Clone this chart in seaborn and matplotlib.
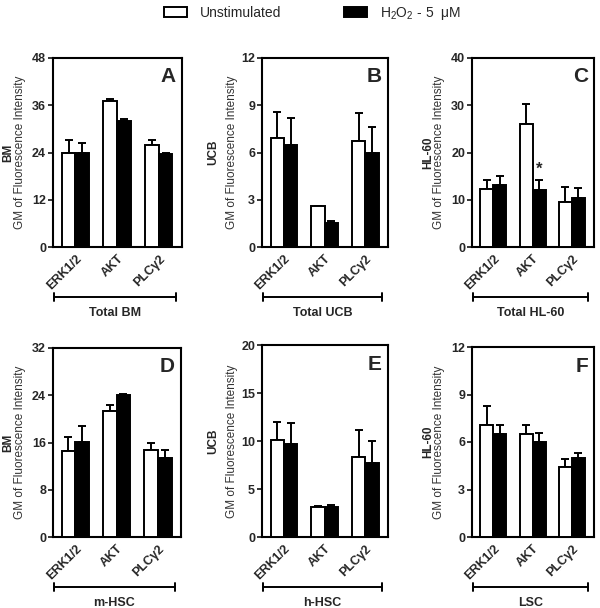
import numpy as np
import pandas as pd
import matplotlib
matplotlib.use("Agg")
import matplotlib.pyplot as plt
import seaborn as sns
from matplotlib.patches import Patch

sns.set_style("ticks")
plt.rcParams['font.family'] = ['Liberation Sans', 'DejaVu Sans']
plt.rcParams['mathtext.default'] = 'regular'

categories = ["ERK1/2", "AKT", "PLCγ2"]
conditions = ["Unstimulated", "H$_2$O$_2$ - 5  μM"]

# Panel A - Total BM
a_unstim = [24.0, 37.0, 25.8]
a_unstim_sem = [3.3, 0.7, 1.5]
a_h2o2 = [23.9, 31.9, 23.7]
a_h2o2_sem = [2.5, 0.7, 0.3]
# Panel B - Total UCB
b_unstim = [6.9, 2.6, 6.7]
b_unstim_sem = [1.7, 0.0, 1.8]
b_h2o2 = [6.5, 1.55, 6.0]
b_h2o2_sem = [1.7, 0.08, 1.65]
# Panel C - Total HL-60
c_unstim = [12.2, 26.0, 9.6]
c_unstim_sem = [2.0, 4.2, 3.0]
c_h2o2 = [13.1, 12.1, 10.3]
c_h2o2_sem = [1.9, 2.1, 2.1]
# Panel D - m-HSC
d_unstim = [14.5, 21.4, 14.7]
d_unstim_sem = [2.4, 0.9, 1.2]
d_h2o2 = [16.1, 24.0, 13.4]
d_h2o2_sem = [2.7, 0.2, 1.4]
# Panel E - h-HSC
e_unstim = [10.1, 3.1, 8.3]
e_unstim_sem = [1.9, 0.1, 2.8]
e_h2o2 = [9.7, 3.1, 7.7]
e_h2o2_sem = [2.2, 0.25, 2.3]
# Panel F - LSC
f_unstim = [7.1, 6.5, 4.4]
f_unstim_sem = [1.2, 0.6, 0.5]
f_h2o2 = [6.5, 6.0, 5.0]
f_h2o2_sem = [0.6, 0.6, 0.3]

panel_letters = ["A", "B", "C", "D", "E", "F"]
sources = ["BM", "UCB", "HL-60", "BM", "UCB", "HL-60"]
populations = ["Total BM", "Total UCB", "Total HL-60", "m-HSC", "h-HSC", "LSC"]
ymax = [48, 12, 40, 32, 20, 12]
ystep = [12, 3, 10, 8, 5, 3]

panels = [
    (a_unstim, a_unstim_sem, a_h2o2, a_h2o2_sem),
    (b_unstim, b_unstim_sem, b_h2o2, b_h2o2_sem),
    (c_unstim, c_unstim_sem, c_h2o2, c_h2o2_sem),
    (d_unstim, d_unstim_sem, d_h2o2, d_h2o2_sem),
    (e_unstim, e_unstim_sem, e_h2o2, e_h2o2_sem),
    (f_unstim, f_unstim_sem, f_h2o2, f_h2o2_sem),
]

W, H = 600, 608
fig = plt.figure(figsize=(W / 100, H / 100), dpi=100)

# axes boxes in pixels: left, top, right, bottom
boxes = [
    (53, 58, 182, 247), (262, 58, 388, 247), (472, 58, 594, 247),
    (53, 348, 181, 537), (262, 345, 388, 537), (472, 347, 594, 537),
]
# label x positions in pixels: (source label x, GM label x)
lab_x = [(8, 20), (213, 232), (428, 439), (8, 20), (213, 232), (428, 439)]

for i, (vals, box) in enumerate(zip(panels, boxes)):
    u, us, h, hs = vals
    l, t, r, b = box
    ax = fig.add_axes([l / W, (H - b) / H, (r - l) / W, (b - t) / H])
    df = pd.DataFrame({
        "cat": categories * 2,
        "cond": [conditions[0]] * 3 + [conditions[1]] * 3,
        "val": list(u) + list(h),
    })
    sns.barplot(data=df, x="cat", y="val", hue="cond", hue_order=conditions,
                palette=["white", "black"], edgecolor="black", linewidth=1.4,
                width=0.66, gap=0, errorbar=None, legend=False, ax=ax, zorder=3)
    for cont, sems in zip(ax.containers, [us, hs]):
        for bar, s in zip(cont, sems):
            xc = bar.get_x() + bar.get_width() / 2
            yv = bar.get_height()
            ax.errorbar([xc], [yv], yerr=[[0], [s]], fmt="none", ecolor="black",
                        elinewidth=1.4, capsize=2.6, capthick=1.4, zorder=2)
    if i == 2:
        bar = ax.containers[1][1]
        ax.text(bar.get_x() + bar.get_width() / 2, h[1] + hs[1] + 0.6, "*",
                ha="center", va="bottom", fontsize=12, fontweight="bold")
    ax.set_xlim(-0.54, 2.56)
    ax.set_ylim(0, ymax[i])
    ax.set_yticks(np.arange(0, ymax[i] + 0.01, ystep[i]))
    ax.set_yticklabels([str(int(v)) for v in np.arange(0, ymax[i] + 0.01, ystep[i])],
                       fontsize=9, fontweight="bold")
    ax.set_xticks(range(3))
    ax.set_xticklabels(categories, rotation=45, ha="right", rotation_mode="anchor",
                       fontsize=9, fontweight="bold")
    ax.tick_params(axis="x", length=0, pad=4)
    ax.tick_params(axis="y", length=3.5, width=1.3, pad=1.5)
    for sp in ax.spines.values():
        sp.set_visible(True)
        sp.set_linewidth(1.5)
        sp.set_color("black")
    ax.set_xlabel("")
    ax.set_ylabel("")
    ax.text(0.95, 0.9, panel_letters[i], transform=ax.transAxes, ha="right",
            va="center", fontsize=15, fontweight="bold")
    # y labels
    yc = (H - (t + b) / 2) / H
    fig.text(lab_x[i][0] / W, yc, sources[i], rotation=90, ha="center", va="center",
             fontsize=8.5, fontweight="bold")
    fig.text(lab_x[i][1] / W, yc, "GM of Fluorescence Intensity", rotation=90,
             ha="center", va="center", fontsize=8.5, color="#333333")
    # bracket
    yb = -50 / (b - t)
    ylab = -60 / (b - t)
    x0, x1 = 0.01, 0.95
    cap = 4 / (b - t)
    ax.plot([x0, x1], [yb, yb], color="black", lw=1.4, transform=ax.transAxes, clip_on=False)
    ax.plot([x0, x0], [yb - cap, yb + cap], color="black", lw=1.4, transform=ax.transAxes, clip_on=False)
    ax.plot([x1, x1], [yb - cap, yb + cap], color="black", lw=1.4, transform=ax.transAxes, clip_on=False)
    ax.text((x0 + x1) / 2, ylab, populations[i], transform=ax.transAxes, ha="center",
            va="top", fontsize=9, fontweight="bold")

handles = [Patch(facecolor="white", edgecolor="black", linewidth=1.4),
           Patch(facecolor="black", edgecolor="black", linewidth=1.4)]
fig.legend(handles, conditions, loc="center", bbox_to_anchor=(0.52, 0.978), ncol=2,
           frameon=False, fontsize=10, handlelength=1.7, handleheight=0.8,
           columnspacing=4.5, handletextpad=0.9)

fig.savefig("out.png", dpi=100)
